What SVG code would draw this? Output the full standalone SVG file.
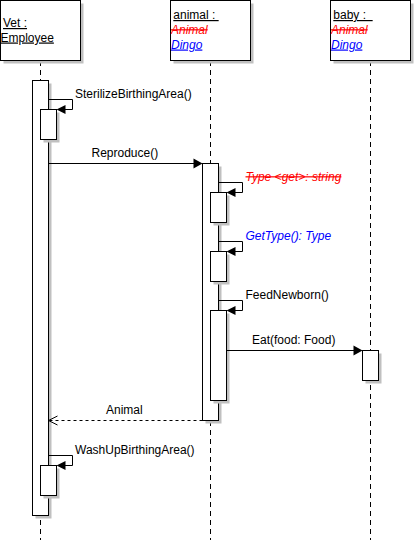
<svg xmlns="http://www.w3.org/2000/svg" width="415" height="540" viewBox="0 0 415 540">
<style>
text{font-family:"Liberation Sans",Arial,sans-serif;font-size:12px;fill:#000}
.box{fill:#fff;stroke:#000;stroke-width:1}
.shadow{fill:#c0c0c0;stroke:none}
.life{stroke:#000;stroke-width:1;stroke-dasharray:5 4;fill:none}
.msg{stroke:#000;stroke-width:1;fill:none}
.ret{stroke:#000;stroke-width:1;fill:none;stroke-dasharray:3 3}
.head{fill:#000;stroke:none}
.u{text-decoration:underline}
.red{fill:#ff0000;font-style:italic;text-decoration:line-through}
.blue{fill:#0000ff;font-style:italic}
.blueu{fill:#0000ff;font-style:italic;text-decoration:underline}
</style>
<rect width="415" height="540" fill="#fff"/>
<g id="lifelines">
<line class="life" x1="40.5" y1="61" x2="40.5" y2="540"/>
<line class="life" x1="210.5" y1="61" x2="210.5" y2="540"/>
<line class="life" x1="370.5" y1="61" x2="370.5" y2="540"/>
</g>
<g id="vet">
<rect class="shadow" x="3.5" y="3.5" width="80" height="60"/>
<rect class="box" x="0.5" y="0.5" width="80" height="60"/>
<text class="u" x="3" y="27">Vet :</text>
<text class="u" x="0.5" y="41.5">Employee</text>
</g>
<g id="animal">
<rect class="shadow" x="173.5" y="3.5" width="80" height="60"/>
<rect class="box" x="170.5" y="0.5" width="80" height="60"/>
<text class="u" x="173.3" y="19" xml:space="preserve">animal : </text>
<text class="red" x="171" y="33.5">Animal</text>
<text class="blueu" x="171" y="48.5">Dingo</text>
</g>
<g id="baby">
<rect class="shadow" x="333.5" y="3.5" width="80" height="60"/>
<rect class="box" x="330.5" y="0.5" width="80" height="60"/>
<text class="u" x="333.3" y="19" xml:space="preserve">baby :  </text>
<text class="red" x="331" y="33.5">Animal</text>
<text class="blueu" x="331" y="48.5">Dingo</text>
</g>
<g id="activations">
<rect class="shadow" x="35.5" y="83.5" width="16" height="435"/>
<rect class="box" x="32.5" y="80.5" width="16" height="435"/>
<rect class="shadow" x="43.5" y="112.5" width="16" height="30"/>
<rect class="box" x="40.5" y="109.5" width="16" height="30"/>
<rect class="shadow" x="43.5" y="468.5" width="16" height="30"/>
<rect class="box" x="40.5" y="465.5" width="16" height="30"/>
<rect class="shadow" x="205.5" y="166.5" width="16" height="257"/>
<rect class="box" x="202.5" y="163.5" width="16" height="257"/>
<rect class="shadow" x="213.5" y="195.5" width="16" height="30"/>
<rect class="box" x="210.5" y="192.5" width="16" height="30"/>
<rect class="shadow" x="213.5" y="254.5" width="16" height="30"/>
<rect class="box" x="210.5" y="251.5" width="16" height="30"/>
<rect class="shadow" x="213.5" y="313.5" width="16" height="90"/>
<rect class="box" x="210.5" y="310.5" width="16" height="90"/>
<rect class="shadow" x="365.5" y="353.5" width="16" height="30"/>
<rect class="box" x="362.5" y="350.5" width="16" height="30"/>
</g>
<g id="connectors">
<path class="msg" d="M48.5,99.5H72.5V109.5H60"/>
<polygon class="head" points="56.5,109.5 65.5,105 65.5,114"/>
<path class="msg" d="M48.5,163.5H195"/>
<polygon class="head" points="202.5,163.5 193.5,158.5 193.5,168.5"/>
<path class="msg" d="M218.5,182.5H242.5V192.5H230"/>
<polygon class="head" points="226.5,192.5 235.5,188 235.5,197"/>
<path class="msg" d="M218.5,241.5H242.5V251.5H230"/>
<polygon class="head" points="226.5,251.5 235.5,247 235.5,256"/>
<path class="msg" d="M218.5,300.5H242.5V310.5H230"/>
<polygon class="head" points="226.5,310.5 235.5,306 235.5,315"/>
<path class="msg" d="M226.5,350.5H355"/>
<polygon class="head" points="362.5,350.5 353.5,345.5 353.5,355.5"/>
<path class="ret" d="M202.5,420.5H49"/>
<polyline class="msg" points="57.5,416 48.5,420.5 57.5,425"/>
<path class="msg" d="M48.5,455.5H72.5V465.5H60"/>
<polygon class="head" points="56.5,465.5 65.5,461 65.5,470"/>
</g>
<g id="labels">
<text x="75" y="98">SterilizeBirthingArea()</text>
<text x="91.5" y="156.5">Reproduce()</text>
<text class="red" x="245.5" y="180.5">Type &lt;get&gt;: string</text>
<text class="blue" x="245.5" y="239.5">GetType(): Type</text>
<text x="245.5" y="299">FeedNewborn()</text>
<text x="252" y="344">Eat(food: Food)</text>
<text x="106" y="414">Animal</text>
<text x="75" y="453.5">WashUpBirthingArea()</text>
</g>
</svg>
